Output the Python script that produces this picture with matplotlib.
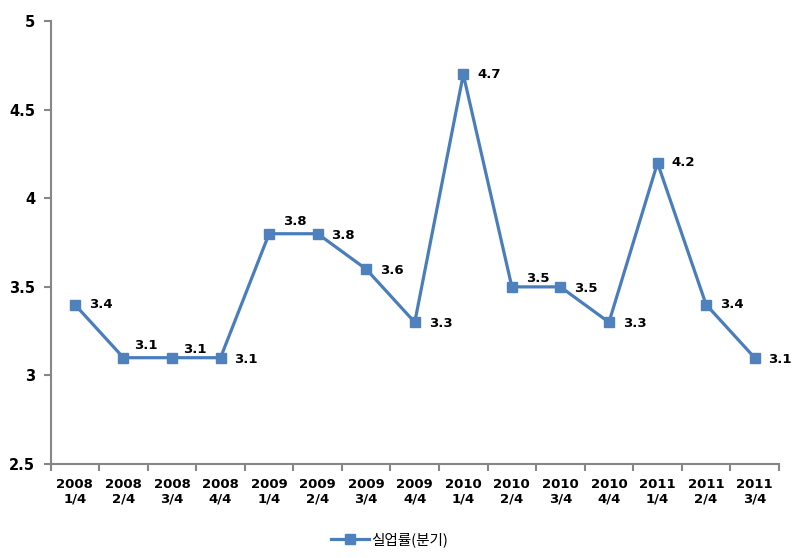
import numpy as np
import matplotlib.pyplot as plt

# data
years = ['2008', '2008', '2008', '2008', '2009', '2009', '2009', '2009',
         '2010', '2010', '2010', '2010', '2011', '2011', '2011']
quarters = ['1/4', '2/4', '3/4', '4/4', '1/4', '2/4', '3/4', '4/4',
            '1/4', '2/4', '3/4', '4/4', '1/4', '2/4', '3/4']
rate = [3.4, 3.1, 3.1, 3.1, 3.8, 3.8, 3.6, 3.3, 4.7, 3.5, 3.5, 3.3, 4.2, 3.4, 3.1]
series_name = '실업률(분기)'

# label offsets (points) to keep labels off the line
offsets = [(10, 0), (8, 9), (8, 6), (10, -1), (10, 9), (10, -1), (10, -1), (10, -1),
           (10, 0), (10, 6), (10, -1), (10, -1), (10, 0), (10, 0), (10, -1)]

plt.rcParams['font.family'] = ['DejaVu Sans', 'Noto Sans CJK KR']

fig = plt.figure(figsize=(8.03, 5.58), dpi=100)
ax = fig.add_axes([0.063, 0.1685, 0.907, 0.7935])

x = np.arange(len(rate))
line_color = '#4a7ebb'
ax.plot(x, rate, color=line_color, lw=2.3, marker='s', ms=7,
        markerfacecolor='#4f81bd', markeredgecolor='#4f81bd', label=series_name)

for xi, v, off in zip(x, rate, offsets):
    ax.annotate(f'{v:.1f}', (xi, v), xytext=off, textcoords='offset points',
                ha='left', va='center', fontsize=9.5, fontweight='bold')

ax.set_xlim(-0.5, len(rate) - 0.5)
ax.set_ylim(2.5, 5)
ax.set_yticks(np.arange(2.5, 5.01, 0.5))
ax.set_yticklabels(['2.5', '3', '3.5', '4', '4.5', '5'], fontsize=10.5, fontweight='bold')

ax.set_xticks(x)
ax.set_xticklabels([f'{y}\n{q}' for y, q in zip(years, quarters)],
                   fontsize=9.5, fontweight='bold', linespacing=1.15)
ax.tick_params(axis='x', which='major', length=0, pad=10)
ax.set_xticks(np.arange(-0.5, len(rate), 1), minor=True)
ax.tick_params(axis='x', which='minor', length=5, width=1.5, color='#868686', direction='out')
ax.tick_params(axis='y', length=5, width=1.5, color='#868686', direction='out', pad=6)

for s in ['top', 'right']:
    ax.spines[s].set_visible(False)
for s in ['left', 'bottom']:
    ax.spines[s].set_color('#868686')
    ax.spines[s].set_linewidth(1.5)

leg = fig.legend(loc='center', bbox_to_anchor=(0.485, 0.032), frameon=False,
                 prop={'family': ['Noto Sans CJK KR'], 'size': 10.5},
                 handlelength=2.6, handletextpad=0.2)

fig.savefig('out.png', dpi=100)
